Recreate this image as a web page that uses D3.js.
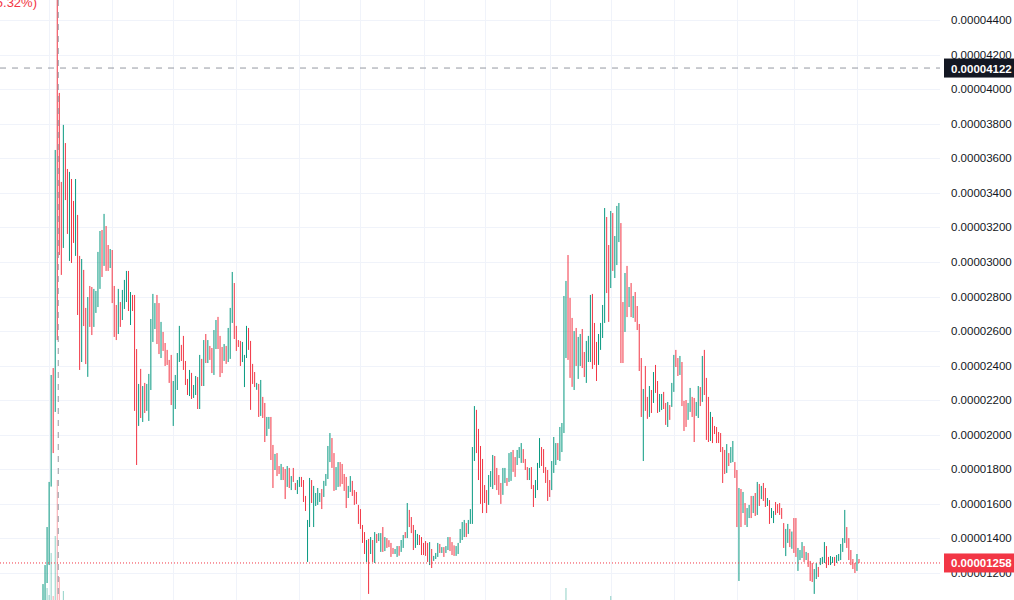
<!DOCTYPE html>
<html><head><meta charset="utf-8">
<script src="https://cdn.jsdelivr.net/npm/d3@7"></script>
<style>body{margin:0;background:#fff;overflow:hidden}svg{display:block}</style>
</head><body>
<svg id="c" width="1014" height="600"></svg>
<script>
// prices in units of 1e-8
const opens = [1040,1040,1142,1246,1700,2386,2132,4600,3978,3463,3081,3688,3538,3006,3480,3353,3035,3272,3035,2421,2954,2734,2335,2861,2855,2624,2705,2739,2844,3185,2977,3208,3098,2965,3069,2861,2751,2583,2768,2664,2728,2768,2948,2635,2809,2809,2496,2051,2381,2074,2300,2138,2080,2259,2537,2612,2809,2762,2444,2595,2531,2491,2433,2462,2051,2149,2259,2421,2520,2572,2427,2323,2224,2358,2213,2230,2334,2149,2439,2282,2583,2415,2514,
2502,2346,2496,2682,2572,2508,2427,2514,2421,2439,2647,2878,2630,2548,2543,2421,2276,2444,2618,2543,2410,2363,2260,2294,2109,2219,2184,1993,2034,2103,1941,1796,1894,1819,1738,1813,1802,1698,1808,1680,1808,1721,1657,1698,1756,1738,1646,1264,1466,1738,1466,1588,1594,1611,1686,1640,1704,1744,1842,1981,1894,1680,1698,1842,1831,1773,1756,1634,1669,1733,1680,1669,1594,1570,1478,1437,1264,1397,1310,1391,1258,1426,1385,
1322,1466,1327,1402,1390,1374,1345,1310,1293,1356,1322,1345,1437,1402,1565,1524,1478,1345,1362,1420,1408,1374,1385,1374,1246,1339,1270,1281,1293,1368,1316,1350,1316,1333,1408,1379,1360,1299,1310,1374,1391,1408,1489,1426,1484,1484,1848,2144,2034,1935,1860,1709,1680,1594,1698,1686,1877,1808,1767,1721,1652,1721,1750,1727,1733,1912,1871,1825,1865,1837,1917,1860,1813,1738,1813,1709,1634,1680,1808,1929,1917,1813,1796,1738,1680,1779,1825,1952,1848,1900,2010,2444,
3040,2792,2676,2259,2618,2323,2398,2612,2479,2300,2421,2421,2815,2647,2537,2404,2491,2560,2647,3260,3098,2849,3283,2907,2982,3115,3225,2768,2595,2977,2739,2878,2676,2826,2745,2641,
2444,1848,2398,2219,2103,2259,2184,2404,2311,2132,2143,2248,2184,2045,2172,2161,2248,2491,2444,2346,2421,2196,2201,2086,2132,2219,2213,2109,2097,2276,2190,2491,2329,2219,1964,2103,2051,2045,2016,2010,1929,1912,1779,1894,1837,1842,1842,1796,1154,1686,1547,1605,1466,1518,1646,1547,1663,1536,1715,1628,1721,1692,1588,1622,1518,1489,1611,1599,1605,1576,1489,1298,1374,1455,1340,1518,1518,1212,1275,1287,1356,1275,1316,1270,1258,1079,1165,1235,1246,1252,1258,1356,1293,1246,1258,1293,1258,1270,1275,1322,1374,1466,1402,1333,1281,1258,1212,1281];
const closes = [1136,1246,1466,1727,2346,1894,3648,2548,3040,2925,3793,3358,3162,3521,2994,3110,3480,2693,2375,3017,2629,2409,2797,2624,2577,2844,2832,3058,3179,2913,3278,2948,2948,3075,2762,2566,2548,2844,2624,2838,2896,2948,2716,2826,2716,2138,1825,2294,2097,2282,2126,2294,2352,2670,2815,2762,2525,2467,2653,2485,2398,2404,2300,2172,2311,2346,2473,2630,2427,2375,2288,2230,2375,2207,2288,2340,2149,2462,2282,2548,2415,2548,2433,
2357,2606,2664,2496,2334,2357,2525,2410,2618,2734,2942,2554,2485,2508,2398,2537,2462,2630,2491,2144,2294,2276,2300,2103,2317,2097,1958,2103,2103,1854,1692,1889,1761,1773,1831,1738,1628,1819,1692,1761,1727,1680,1738,1756,1698,1611,1559,1507,1750,1605,1704,1663,1692,1663,1570,1733,1773,1935,2010,1808,1675,1813,1842,1700,1715,1675,1576,1704,1761,1646,1594,1599,1484,1455,1374,1310,1391,1079,1408,1264,1437,1374,1431,
1431,1322,1408,1345,1350,1293,1310,1339,1356,1300,1391,1420,1402,1605,1466,1431,1333,1449,1426,1362,1304,1304,1299,1264,1379,1229,1299,1316,1374,1316,1350,1293,1356,1408,1327,1304,1299,1356,1374,1455,1495,1507,1408,1507,1570,1929,2166,1894,1738,1600,1547,1605,1547,1767,1790,1883,1709,1680,1652,1600,1808,1808,1704,1894,1900,1785,1756,1912,1929,1952,1837,1796,1738,1808,1686,1582,1738,1837,1981,1819,1779,1721,1617,1640,1848,1987,1952,1854,2045,2068,2803,2890,
2433,2329,2277,2600,2398,2566,2583,2386,2334,2543,2572,2809,2381,2404,2311,2583,2647,2751,3312,2820,2653,3295,2948,3150,3324,3341,2415,2415,2936,2681,2855,2681,2803,2653,2606,2369,
2103,2265,2138,2092,2282,2126,2363,2242,2126,2236,2236,2149,2057,2190,2086,2300,2462,2392,2340,2456,2166,2022,2045,2184,2271,2103,1958,2190,2282,2166,2456,2230,1970,1958,2132,1952,2004,1952,1952,1900,1721,1773,1946,1819,1929,1964,1750,1466,1692,1466,1669,1478,1576,1594,1518,1646,1530,1727,1588,1704,1617,1582,1634,1484,1576,1559,1536,1547,1536,1513,1345,1455,1484,1350,1440,1316,1293,1345,1333,1379,1264,1322,1235,1154,1148,1223,1258,1177,1287,1293,1379,1229,1246,1298,1293,1241,1304,1310,1368,1402,1565,1345,1275,1246,1223,1200,1310,1258];
const priceTicks = [1200,1400,1600,1800,2000,2200,2400,2600,2800,3000,3200,3400,3600,3800,4000,4200,4400];
const monthStarts = [3,34,64,95,126,156,187,217,249,279,310,341,369,400];
const volIndex = [2,3,4,5,6,7,8,10,257,279];
const volValue = [12,5,47,4,64,120,23,9,12,4];
const crossIndex = 7, crossPrice = 4122, lastPrice = 1258;
const legendText = "(-5.32%)";

const UP = "#089981", DN = "#f23645";
const svg = d3.select("#c");
const plotR = 940;
const x = d3.scaleLinear().domain([0, opens.length - 1]).range([43, 859]);
const y = d3.scaleLinear().domain([1200, 4400]).range([573, 20]);
const vy = d3.scaleLinear().domain([0, 120]).range([600, 480]);
const fmt = v => d3.format(".8f")(v * 1e-8);

// grid
svg.append("g").selectAll("line").data(priceTicks).join("line")
  .attr("x1", 0).attr("x2", plotR).attr("y1", d => Math.round(y(d)) + 0.5).attr("y2", d => Math.round(y(d)) + 0.5)
  .attr("stroke", "#f0f3fa");
svg.append("g").selectAll("line").data(monthStarts).join("line")
  .attr("y1", 0).attr("y2", 600).attr("x1", d => Math.round(x(d)) + 0.5).attr("x2", d => Math.round(x(d)) + 0.5)
  .attr("stroke", "#f0f3fa");

// volume
svg.append("g").selectAll("rect").data(volIndex).join("rect")
  .attr("x", (d) => x(d) - 0.5).attr("width", 1)
  .attr("y", (d, i) => vy(volValue[i])).attr("height", (d, i) => 600 - vy(volValue[i]))
  .attr("fill", d => closes[d] >= opens[d] ? UP : DN).attr("opacity", 0.45);

// candles
svg.append("g").selectAll("rect").data(opens.map((o, i) => i)).join("rect")
  .attr("x", i => x(i) - 0.5).attr("width", 1)
  .attr("y", i => y(Math.max(opens[i], closes[i])))
  .attr("height", i => Math.max(1, Math.abs(y(opens[i]) - y(closes[i]))))
  .attr("fill", i => closes[i] >= opens[i] ? UP : DN);

// current price line
svg.append("line").attr("x1", 0).attr("x2", plotR).attr("y1", y(lastPrice)).attr("y2", y(lastPrice))
  .attr("stroke", DN).attr("stroke-dasharray", "1,2");
// crosshair
svg.append("line").attr("x1", 0).attr("x2", plotR).attr("y1", y(crossPrice)).attr("y2", y(crossPrice))
  .attr("stroke", "#9598a1").attr("stroke-dasharray", "6,6");
svg.append("line").attr("x1", x(crossIndex) + 1).attr("x2", x(crossIndex) + 1).attr("y1", 0).attr("y2", 600)
  .attr("stroke", "#9598a1").attr("stroke-dasharray", "6,6");

// axis labels
svg.append("g").selectAll("text").data(priceTicks).join("text")
  .attr("x", 951).attr("y", d => y(d) + 4)
  .attr("font-family", "Liberation Sans, Arial, sans-serif").attr("font-size", 11.5)
  .attr("fill", "#131722").text(d => fmt(d));

function badge(p, bg) {
  const g = svg.append("g");
  g.append("rect").attr("x", 944).attr("y", y(p) - 9.5).attr("width", 70).attr("height", 19).attr("fill", bg);
  g.append("text").attr("x", 951).attr("y", y(p) + 4.5).attr("fill", "#fff")
    .attr("font-family", "Liberation Sans, Arial, sans-serif").attr("font-size", 11.5).attr("font-weight", "bold")
    .text(fmt(p));
}
badge(crossPrice, "#131722");
badge(lastPrice, DN);

svg.append("text").attr("x", 37).attr("y", 7).attr("text-anchor", "end")
  .attr("font-family", "Liberation Sans, Arial, sans-serif").attr("font-size", 13).attr("fill", DN).text(legendText);
</script>
</body></html>
